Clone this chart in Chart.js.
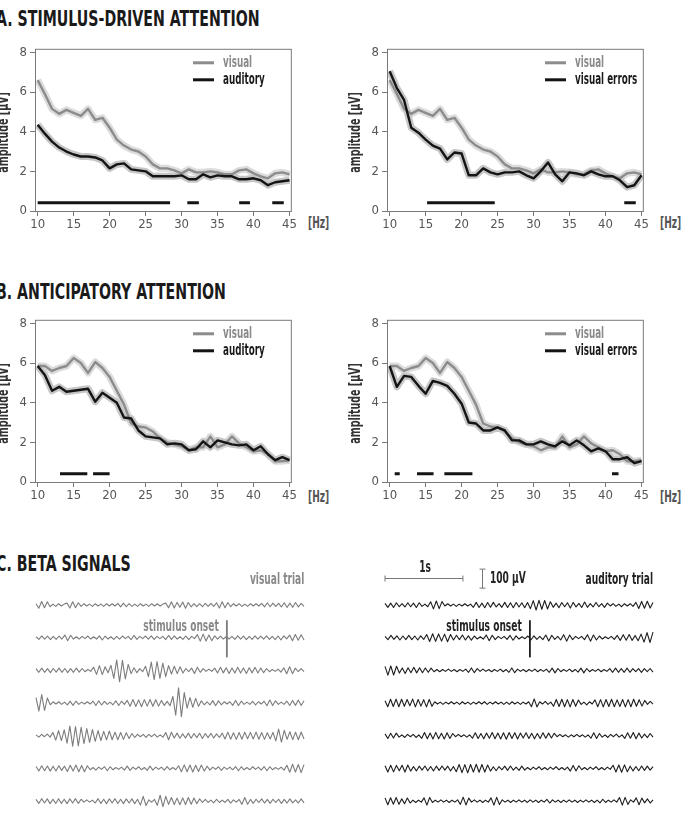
<!DOCTYPE html>
<html>
<head>
<meta charset="utf-8">
<script src="https://cdn.jsdelivr.net/npm/chart.js@4.4.1/dist/chart.umd.min.js"></script>
<style>
  body { margin: 0; background: #fff; }
  #page { position: relative; width: 694px; height: 819px; overflow: hidden;
          font-family: 'DejaVu Sans Condensed', 'Liberation Sans', sans-serif; }
  canvas { position: absolute; }
  .txt { position: absolute; white-space: nowrap; font-weight: bold; font-size: 16px; line-height: 16px;
         transform: scaleX(0.63); transform-origin: left center; }
  .txt.r { transform-origin: right center; }
  .txt.c { transform: translateX(-50%) scaleX(0.63); transform-origin: center center; }
  .title { position: absolute; white-space: nowrap; font-weight: bold; font-size: 21px; line-height: 21px;
           color: #1a1a1a; transform: scaleX(0.75); transform-origin: 0 0; }
</style>
</head>
<body>
<div id="page">
  <div class="title" style="left:-4px;top:9px">A. STIMULUS-DRIVEN ATTENTION</div>
  <div class="title" style="left:-4px;top:282px">B. ANTICIPATORY ATTENTION</div>
  <div class="title" style="left:-4px;top:554px">C. BETA SIGNALS</div>

  <canvas id="aLeft" width="305" height="196" style="left:-7px;top:38px"></canvas>
  <canvas id="aRight" width="305" height="196" style="left:345px;top:38px"></canvas>
  <canvas id="bLeft" width="305" height="196" style="left:-7px;top:309px"></canvas>
  <canvas id="bRight" width="305" height="196" style="left:345px;top:309px"></canvas>

  <div class="txt" style="left:308px;top:215px;color:#555">[Hz]</div>
  <div class="txt" style="left:660px;top:215px;color:#555">[Hz]</div>
  <div class="txt" style="left:308px;top:489px;color:#555">[Hz]</div>
  <div class="txt" style="left:660px;top:489px;color:#555">[Hz]</div>

  <canvas id="cLeft" width="280" height="263" style="left:30px;top:556px"></canvas>
  <canvas id="cRight" width="280" height="263" style="left:379px;top:556px"></canvas>

  <div class="txt r" style="right:390px;top:571px;color:#888">visual trial</div>
  <div class="txt r" style="right:475px;top:618px;color:#888">stimulus onset</div>
  <div class="txt r" style="right:41px;top:571px;color:#222">auditory trial</div>
  <div class="txt r" style="right:172px;top:618px;color:#222">stimulus onset</div>
  <div class="txt c" style="left:425px;top:559px;color:#222">1s</div>
  <div class="txt" style="left:490px;top:570px;color:#222">100 µV</div>
</div>
<script>
const FONT = "'DejaVu Sans Condensed', 'Liberation Sans', sans-serif";
const GRAY = '#8c8c8c';
const DARK = '#141414';

// spectra, amplitude in µV per frequency (Hz)
const freqs = [10,11,12,13,14,15,16,17,18,19,20,21,22,23,24,25,26,27,28,29,30,31,32,33,34,35,36,37,38,39,40,41,42,43,44,45];
const xTicks = [10,15,20,25,30,35,40,45];
const yTicks = [0,2,4,6,8];

const stimVisual = [6.6,5.9,5.15,4.9,5.1,4.95,4.8,5.15,4.6,4.7,4.2,3.6,3.3,3.1,3.0,2.75,2.35,2.15,2.15,2.05,1.9,2.1,1.95,1.95,2.0,1.95,1.85,1.85,2.05,2.1,1.9,1.75,1.65,1.9,1.95,1.85];
const stimAuditory = [4.35,3.9,3.5,3.2,3.0,2.85,2.75,2.75,2.7,2.55,2.15,2.35,2.4,2.1,2.05,2.0,1.75,1.75,1.75,1.75,1.8,1.6,1.6,1.85,1.7,1.8,1.75,1.75,1.6,1.6,1.65,1.55,1.3,1.45,1.5,1.55];
const stimVisualErrors = [7.05,6.2,5.6,4.2,3.95,3.6,3.3,3.15,2.6,2.95,2.9,1.8,1.8,2.15,1.95,1.85,1.95,1.95,2.0,1.8,1.65,2.0,2.45,1.85,1.5,1.95,1.9,1.8,2.0,1.85,1.75,1.75,1.55,1.2,1.3,1.8];

const anticVisual = [5.85,5.85,5.6,5.75,5.85,6.25,6.0,5.5,6.05,5.75,5.3,4.6,3.9,2.95,2.8,2.75,2.55,2.2,2.0,1.9,1.8,1.6,1.75,1.75,2.3,1.75,1.9,2.3,1.95,1.75,1.55,1.6,1.4,1.05,1.05,1.1];
const anticAuditory = [5.85,5.4,4.6,4.8,4.55,4.6,4.65,4.7,4.05,4.5,4.25,4.0,3.25,3.2,2.6,2.3,2.25,2.2,1.9,1.95,1.9,1.6,1.65,2.05,1.75,2.1,2.0,1.9,1.85,1.9,1.6,1.8,1.4,1.1,1.25,1.1];
const anticVisualErrors = [5.85,4.8,5.35,5.3,4.85,4.45,5.1,5.0,4.85,4.45,3.95,3.0,2.95,2.6,2.6,2.75,2.6,2.1,2.1,1.9,1.9,2.05,1.9,1.8,2.05,1.85,2.1,1.85,1.55,1.7,1.55,1.15,1.15,1.25,0.95,1.05];

// significant frequency ranges [from, to] in Hz
const sigStimAuditory = [[10,28.4],[30.8,32.4],[38,39.5],[42.6,44.2]];
const sigStimErrors = [[15.2,24.6],[42.6,44.2]];
const sigAnticAuditory = [[13.1,16.9],[17.7,20]];
const sigAnticErrors = [[10.7,11.4],[13.8,16.1],[17.6,21.5],[40.9,41.8]];

// beta signals in µV, one array per trial row
const visualTrial1 = [7,-17,19,-14,17,-9,5,-7,7,-5,5,10,-16,17,-14,12,-7,7,-5,5,-7,7,-5,5,-7,7,-5,7,-5,9,-10,10,-9,7,-7,5,-7,7,-5,5,-7,7,-5,7,-5,5,10,-14,17,-16,14,-12,16,-17,13,-10,7,-9,7,-9,9,-7,9,-7,12,-16,17,-14,13,-9,7,-5,7,-7,5,-7,7,-5,7,-5,9,-10,12,-9,10,-7,9,-10,12,-13,10,-12,13,-10,9,-7];
const visualTrial2 = [5,-9,10,-7,9,-10,7,-9,9,-7,14,-16,13,-7,5,-7,7,-5,9,-7,5,-7,10,-12,9,-7,5,-9,7,-7,9,-5,7,-10,12,-9,7,-5,9,-7,10,-9,7,-5,7,-10,12,-9,10,-7,5,-9,9,-10,7,-5,16,-18,19,-17,14,-16,10,-7,9,-7,5,-7,7,-9,10,-7,9,-10,7,-9,10,-7,9,-7,10,-9,7,-10,9,-12,10,-6,14,-16,17,-13,16,-12];
const visualTrial3 = [9,-10,12,-10,9,-12,10,-9,12,-10,10,-12,9,-10,12,-9,10,-7,5,-5,17,-21,25,-22,19,-12,27,-42,55,-60,53,-45,32,-17,14,-12,9,-7,22,-33,44,-49,47,-42,38,-33,25,-19,22,-17,19,-14,10,-7,12,-16,17,-10,9,-5,7,-5,12,-14,16,-13,14,-16,13,-14,16,-14,13,-16,14,-13,16,-14,13,-12,10,-7,5,-5,7,-9,14,-18,19,-17,12,-7,9,-7];
const visualTrial4 = [29,-42,45,-39,27,-9,7,-5,7,-7,5,-9,10,-12,10,-7,5,-5,7,-5,10,-13,12,-10,9,-7,5,-9,12,-13,10,-7,14,-17,19,-18,17,-19,18,-16,19,-17,18,-16,14,-12,9,-14,35,-64,80,-72,55,-27,29,-22,25,-17,12,-9,7,-10,13,-14,12,-9,7,-5,7,-12,14,-13,10,-7,5,-7,9,-10,7,-5,10,-14,16,-13,12,-7,5,-7,10,-13,14,-12,16,-13,12];
const visualTrial5 = [5,-7,7,-5,9,-7,17,-23,27,-25,31,-39,51,-55,49,-53,45,-42,38,-35,33,-29,27,-25,23,-22,25,-21,19,-21,17,-19,16,-14,12,-9,7,-5,7,-9,7,-5,9,-7,5,-7,17,-21,19,-12,14,-13,10,-12,14,-13,12,-10,13,-14,12,-10,13,-12,10,-9,14,-17,19,-18,16,-19,17,-18,19,-16,18,-17,19,-18,17,-19,16,-17,18,-27,35,-33,29,-19,21,-20,19,-21,20,-17];
const visualTrial6 = [10,-13,14,-12,13,-14,12,-13,14,-10,12,-16,17,-14,18,-17,16,-17,14,-7,5,-9,7,-5,10,-12,9,-7,5,-5,7,-9,12,-10,7,-5,9,-7,5,-10,12,-9,7,-5,7,-9,10,-7,5,-7,14,-18,19,-17,18,-19,17,-16,18,-14,12,-9,7,-5,9,-10,7,-5,7,-7,10,-12,9,-7,5,-7,9,-5,7,-9,10,-12,9,-7,5,-5,7,-9,17,-20,22,-19,21,-22,20];
const visualTrial7 = [9,-12,13,-10,12,-13,10,-12,13,-12,10,-13,12,-10,13,-12,10,-5,7,-5,5,-10,13,-12,10,-13,12,-10,13,-12,10,-13,12,-10,12,-13,10,-21,25,-23,7,-5,9,-22,31,-29,25,-17,19,-18,16,-19,17,-18,19,-16,17,-14,12,-7,9,-7,5,-9,10,-7,5,-7,9,-10,7,-5,9,-17,19,-16,9,-12,10,-7,12,-10,9,-12,10,-7,10,-12,9,-10,12,-9,7,-10,12,-9];

const auditoryTrial1 = [9,-12,10,-13,12,-9,7,-10,12,-9,10,-13,12,-7,5,-9,17,-20,21,-19,18,-5,7,-5,5,-7,5,-5,7,-5,5,-12,14,-13,10,-14,13,-12,14,-10,7,-12,14,-13,12,-14,13,-10,12,-14,13,-19,23,-26,25,-22,24,-21,17,-12,10,-14,13,-9,12,-16,14,-10,9,-13,16,-12,7,-10,13,-9,7,-12,10,-5,7,-7,5,-9,7,-5,7,-7,14,-18,19,-17,20,-16,13];
const auditoryTrial2 = [7,-10,12,-9,10,-12,9,-10,12,-10,9,-12,10,-9,17,-20,21,-19,20,-18,19,-21,17,-12,13,-10,14,-12,10,-13,9,-7,5,-7,14,-16,13,-10,7,-5,7,-9,12,-13,10,-7,5,-5,9,-12,10,-9,7,-10,14,-17,13,-9,7,-12,16,-18,14,-10,7,-5,7,-10,16,-18,14,-12,9,-7,5,-5,7,-9,12,-14,16,-13,17,-14,12,-16,19,-23,27,-25,29];
const auditoryTrial3 = [21,-25,23,-24,22,-14,13,-16,14,-12,16,-13,14,-12,13,-10,12,-7,5,-7,5,-5,7,-5,5,-7,5,-5,7,-10,13,-12,9,-5,7,-5,5,-7,5,-5,7,-7,5,-10,13,-12,7,-5,5,-7,5,-5,7,-7,5,-5,7,-10,12,-13,10,-7,5,-5,7,-7,5,-9,12,-13,10,-7,5,-5,7,-7,5,-5,9,-10,12,-10,9,-10,12,-10,9,-7,9,-10,9,-7,10,-9];
const auditoryTrial4 = [12,-19,20,-18,21,-19,20,-17,19,-14,21,-20,19,-16,18,-20,19,-17,7,-5,5,-7,5,-5,7,-5,5,-7,7,-5,5,-7,5,-5,7,-5,7,-7,5,-5,7,-5,5,-7,5,-7,7,-5,5,-7,5,-5,7,-19,22,-20,7,-5,9,-7,5,-17,19,-18,20,-19,18,-20,19,-17,16,-7,5,-9,7,-5,17,-19,18,-20,19,-18,20,-19,17,-18,19,-20,18,-19,20,-17,18,-16,14,-7,9,-5];
const auditoryTrial5 = [10,-14,13,-12,14,-7,5,-9,7,-5,7,-9,5,-14,17,-16,14,-17,18,-16,13,-17,16,-14,12,-5,7,-5,5,-7,5,-13,16,-14,12,-16,14,-13,17,-16,14,-17,16,-18,17,-14,16,-17,14,-12,16,-14,13,-16,12,-14,16,-13,14,-12,13,-5,7,-5,5,-7,5,-5,7,-5,5,-7,5,-13,16,-14,12,-7,5,-9,7,-5,9,-7,5,-14,16,-13,17,-16,14,-12,9,-10,12,-7];
const auditoryTrial6 = [14,-19,17,-18,16,-12,17,-19,18,-14,10,-13,12,-9,13,-12,10,-13,12,-10,13,-9,12,-13,10,-17,21,-22,20,-23,21,-19,22,-20,21,-19,18,-14,9,-12,10,-7,12,-10,13,-9,7,-10,12,-9,5,-7,7,-5,9,-7,5,-7,7,-5,9,-7,5,-7,7,-14,16,-13,14,-7,5,-7,7,-5,9,-7,5,-7,7,-5,17,-19,18,-20,19,-17,12,-13,10,-12,13,-10,12,-9,10];
const auditoryTrial7 = [17,-19,18,-16,19,-17,12,-14,16,-10,5,-7,5,-5,17,-21,19,-7,5,-5,7,-5,5,-7,5,-5,7,-17,21,-20,16,-5,7,-5,5,-7,5,-5,17,-21,20,-18,7,-5,5,-7,5,-5,7,-5,5,-7,7,-5,5,-7,5,-5,9,-10,7,-5,5,-7,5,-5,7,-5,5,-7,5,-5,7,-5,5,-7,5,-9,10,-7,5,-5,7,-5,19,-21,20,-17,7,-5,17,-19,16,-9,12,-10,7];

const traceSeconds = 3.44;
const visualOnset = 2.45;
const auditoryOnset = 1.86;
const barSeconds = 1;
const barMicroV = 100;

// layout constants (pixels / scale units)
const SIG_Y = 0.42;
const ROW_GAP = 172;
const BAR_Y = 142, BAR_T = 1.24, BAR_V0 = 89;

Chart.defaults.animation = false;
Chart.defaults.elements.point.radius = 0;
Chart.defaults.elements.line.tension = 0;
Chart.defaults.elements.line.borderJoinStyle = 'round';
Chart.defaults.plugins.legend.display = false;
Chart.defaults.plugins.tooltip.enabled = false;

// frame, legend and y title drawn squeezed like the condensed original font
const boxAndLegend = {
  id: 'boxAndLegend',
  afterDraw(chart, args, opts) {
    const {ctx, chartArea: a} = chart;
    ctx.save();
    ctx.strokeStyle = '#7a7a7a';
    ctx.lineWidth = 1;
    ctx.strokeRect(a.left + 0.5, a.top + 0.5, a.width - 1, a.height - 1);
    opts.items.forEach((it, i) => {
      const y = a.top + 14 + i * 17;
      ctx.strokeStyle = it.color;
      ctx.lineWidth = 3;
      ctx.beginPath();
      ctx.moveTo(a.left + 158, y);
      ctx.lineTo(a.left + 179, y);
      ctx.stroke();
      ctx.save();
      ctx.translate(a.left + 188, y);
      ctx.scale(0.65, 1);
      ctx.fillStyle = it.textColor;
      ctx.font = 'bold 15px ' + FONT;
      ctx.textBaseline = 'middle';
      ctx.fillText(it.text, 0, 0);
      ctx.restore();
    });
    ctx.translate(a.left - 31, (a.top + a.bottom) / 2 + 2);
    ctx.rotate(-Math.PI / 2);
    ctx.scale(0.66, 1);
    ctx.fillStyle = '#333';
    ctx.font = 'bold 16px ' + FONT;
    ctx.textAlign = 'center';
    ctx.textBaseline = 'middle';
    ctx.fillText(opts.yTitle, 0, 0);
    ctx.restore();
  }
};

function spectrumChart(id, grayVals, darkVals, darkLabel, sigBars) {
  const pts = vals => freqs.map((f, i) => ({x: f, y: vals[i]}));
  const bars = sigBars.flatMap(([a, b]) => [{x: a, y: SIG_Y}, {x: b, y: SIG_Y}, {x: b, y: null}]);
  new Chart(document.getElementById(id), {
    type: 'line',
    data: {
      datasets: [
        {data: bars, borderColor: DARK, borderWidth: 3, borderCapStyle: 'butt'},
        {data: pts(darkVals), borderColor: DARK, borderWidth: 2.4},
        {data: pts(grayVals), borderColor: GRAY, borderWidth: 2.4},
        {data: pts(darkVals), borderColor: '#c6c6c6', borderWidth: 7},
        {data: pts(grayVals), borderColor: '#dcdcdc', borderWidth: 7}
      ]
    },
    options: {
      responsive: false,
      layout: {padding: {left: 0, top: 4, right: 4, bottom: 0}},
      scales: {
        x: {
          type: 'linear', min: 9.63, max: 45.32,
          afterBuildTicks: s => { s.ticks = xTicks.map(v => ({value: v})); },
          afterFit: s => { s.height = 22; },
          grid: {drawOnChartArea: false, tickLength: 4, color: '#7a7a7a'},
          border: {display: false},
          ticks: {color: '#555', font: {family: FONT, size: 13}, padding: 1, maxRotation: 0, autoSkip: false}
        },
        y: {
          type: 'linear', min: -0.05, max: 8.18,
          afterBuildTicks: s => { s.ticks = yTicks.map(v => ({value: v})); },
          afterFit: s => { s.width = 42; },
          grid: {drawOnChartArea: false, tickLength: 5, color: '#7a7a7a'},
          border: {display: false},
          ticks: {color: '#555', font: {family: FONT, size: 13}, padding: 3}
        }
      },
      plugins: {
        boxAndLegend: {
          yTitle: 'amplitude [µV]',
          items: [
            {text: 'visual', color: GRAY, textColor: '#8a8a8a'},
            {text: darkLabel, color: DARK, textColor: '#1a1a1a'}
          ]
        }
      }
    },
    plugins: [boxAndLegend]
  });
}

spectrumChart('aLeft', stimVisual, stimAuditory, 'auditory', sigStimAuditory);
spectrumChart('aRight', stimVisual, stimVisualErrors, 'visual errors', sigStimErrors);
spectrumChart('bLeft', anticVisual, anticAuditory, 'auditory', sigAnticAuditory);
spectrumChart('bRight', anticVisual, anticVisualErrors, 'visual errors', sigAnticErrors);

const scaleBars = {
  id: 'scaleBars',
  afterDraw(chart) {
    const {ctx, scales: {x, y}} = chart;
    ctx.save();
    ctx.strokeStyle = '#777';
    ctx.lineWidth = 1;
    const xa = x.getPixelForValue(0), xb = x.getPixelForValue(barSeconds);
    const yh = Math.round(y.getPixelForValue(BAR_Y)) + 0.5;
    ctx.beginPath();
    ctx.moveTo(xa, yh); ctx.lineTo(xb, yh);
    ctx.moveTo(xa, yh - 3); ctx.lineTo(xa, yh + 3);
    ctx.moveTo(xb, yh - 3); ctx.lineTo(xb, yh + 3);
    const xv = Math.round(x.getPixelForValue(BAR_T)) + 0.5;
    const y0 = y.getPixelForValue(BAR_V0), y1 = y.getPixelForValue(BAR_V0 + barMicroV);
    ctx.moveTo(xv, y0); ctx.lineTo(xv, y1);
    ctx.moveTo(xv - 3, y0); ctx.lineTo(xv + 3, y0);
    ctx.moveTo(xv - 3, y1); ctx.lineTo(xv + 3, y1);
    ctx.stroke();
    ctx.restore();
  }
};

function traceChart(id, trials, color, onset, extra) {
  const datasets = trials.map((arr, k) => ({
    data: arr.map((v, i) => ({x: i * traceSeconds / (arr.length - 1), y: v - k * ROW_GAP})),
    borderColor: color, borderWidth: 1.1, clip: false
  }));
  datasets.push({
    data: [{x: onset, y: -ROW_GAP + 88}, {x: onset, y: -ROW_GAP - 100}],
    borderColor: color, borderWidth: 1.8, clip: false
  });
  new Chart(document.getElementById(id), {
    type: 'line',
    data: {datasets},
    options: {
      responsive: false,
      layout: {padding: {left: 6, right: 6, top: 4, bottom: 0}},
      scales: {
        x: {type: 'linear', display: false, min: 0, max: traceSeconds},
        y: {type: 'linear', display: false, min: -1126, max: 237}
      }
    },
    plugins: extra
  });
}

traceChart('cLeft',
  [visualTrial1, visualTrial2, visualTrial3, visualTrial4, visualTrial5, visualTrial6, visualTrial7],
  '#7c7c7c', visualOnset, []);
traceChart('cRight',
  [auditoryTrial1, auditoryTrial2, auditoryTrial3, auditoryTrial4, auditoryTrial5, auditoryTrial6, auditoryTrial7],
  '#1e1e1e', auditoryOnset, [scaleBars]);
</script>
</body>
</html>
